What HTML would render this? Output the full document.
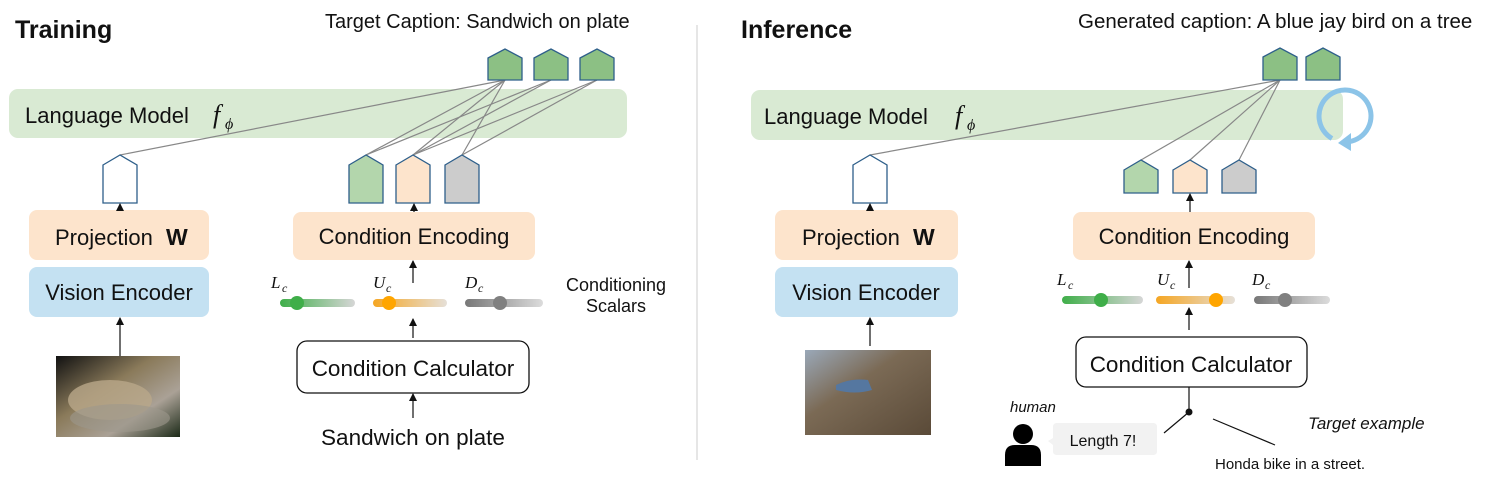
<!DOCTYPE html>
<html><head><meta charset="utf-8"><style>
body{margin:0;background:#fff}
svg{display:block}
text{font-family:"Liberation Sans",sans-serif;fill:#111}
.m{font-family:"Liberation Serif",serif;font-style:italic}
</style></head><body>
<svg width="1495" height="482" viewBox="0 0 1495 482" xmlns="http://www.w3.org/2000/svg">
<defs>
<marker id="ar" markerWidth="8" markerHeight="8" refX="7" refY="4" orient="auto" markerUnits="userSpaceOnUse"><path d="M0,0 L8,4 L0,8 z" fill="#111"/></marker>
<linearGradient id="gG" x1="0" x2="1"><stop offset="0" stop-color="#3fae49"/><stop offset="1" stop-color="#d6d6d6"/></linearGradient>
<linearGradient id="gO" x1="0" x2="1"><stop offset="0" stop-color="#f5a623"/><stop offset="1" stop-color="#e6e0d8"/></linearGradient>
<linearGradient id="gD" x1="0" x2="1"><stop offset="0" stop-color="#777"/><stop offset="1" stop-color="#dcdcdc"/></linearGradient>
<linearGradient id="img1" x1="0" y1="0" x2="1" y2="1"><stop offset="0" stop-color="#111"/><stop offset=".4" stop-color="#8a7a5a"/><stop offset=".7" stop-color="#aaa196"/><stop offset="1" stop-color="#1c2a18"/></linearGradient>
<linearGradient id="img2" x1="0" y1="0" x2="1" y2="1"><stop offset="0" stop-color="#9aa8b8"/><stop offset=".4" stop-color="#7b6a55"/><stop offset="1" stop-color="#5a4a38"/></linearGradient>
</defs>

<line x1="697" y1="25" x2="697" y2="460" stroke="#ccc" stroke-width="1"/>

<!-- ============ TRAINING ============ -->
<text x="15" y="38" font-size="25" font-weight="bold">Training</text>
<text x="325" y="28" font-size="20">Target Caption:  Sandwich on plate</text>

<rect x="9" y="89" width="618" height="49" rx="9" fill="#d9ead3"/>
<text x="25" y="123" font-size="22">Language Model</text>
<text x="213" y="123" font-size="26" class="m">f</text><text x="225" y="129" font-size="16" class="m">ϕ</text>

<g stroke="#888" stroke-width="1.2" fill="none">
<line x1="505" y1="80" x2="120" y2="155"/>
<line x1="505" y1="80" x2="366" y2="155"/>
<line x1="505" y1="80" x2="413" y2="155"/>
<line x1="505" y1="80" x2="462" y2="155"/>
<line x1="551" y1="80" x2="366" y2="155"/>
<line x1="551" y1="80" x2="413" y2="155"/>
<line x1="597" y1="80" x2="413" y2="155"/>
<line x1="597" y1="80" x2="462" y2="155"/>
</g>

<g stroke="#2e5f8a" stroke-width="1.3">
<path d="M488,58 L505,49 L522,58 L522,80 L488,80 Z" fill="#8cc084"/>
<path d="M534,58 L551,49 L568,58 L568,80 L534,80 Z" fill="#8cc084"/>
<path d="M580,58 L597,49 L614,58 L614,80 L580,80 Z" fill="#8cc084"/>
<path d="M103,165 L120,155 L137,165 L137,203 L103,203 Z" fill="#fff"/>
<path d="M349,165 L366,155 L383,165 L383,203 L349,203 Z" fill="#b3d6ac"/>
<path d="M396,165 L413,155 L430,165 L430,203 L396,203 Z" fill="#fde4cc"/>
<path d="M445,165 L462,155 L479,165 L479,203 L445,203 Z" fill="#cccccc"/>
</g>

<rect x="29" y="210" width="180" height="50" rx="8" fill="#fde4cc"/>
<text x="55" y="245" font-size="22">Projection</text><text x="166" y="245" font-size="23" font-weight="bold" font-family="Liberation Serif,serif">W</text>
<rect x="29" y="267" width="180" height="50" rx="8" fill="#c4e1f2"/>
<text x="119" y="300" font-size="22" text-anchor="middle">Vision Encoder</text>

<rect x="293" y="212" width="242" height="48" rx="8" fill="#fde4cc"/>
<text x="414" y="244" font-size="22" text-anchor="middle">Condition Encoding</text>

<g stroke="#111" stroke-width="1.2" marker-end="url(#ar)">
<line x1="120" y1="210" x2="120" y2="204"/>
<line x1="120" y1="356" x2="120" y2="318"/>
<line x1="414" y1="212" x2="414" y2="204"/>
<line x1="413" y1="283" x2="413" y2="261"/>
<line x1="413" y1="338" x2="413" y2="319"/>
<line x1="413" y1="418" x2="413" y2="394"/>
</g>

<text x="271" y="288" font-size="17" class="m">L</text><text x="282" y="292" font-size="12" class="m">c</text>
<text x="373" y="288" font-size="17" class="m">U</text><text x="386" y="292" font-size="12" class="m">c</text>
<text x="465" y="288" font-size="17" class="m">D</text><text x="478" y="292" font-size="12" class="m">c</text>
<rect x="280" y="299" width="75" height="8" rx="4" fill="url(#gG)"/><circle cx="297" cy="303" r="7" fill="#3fae49"/>
<rect x="373" y="299" width="74" height="8" rx="4" fill="url(#gO)"/><circle cx="389" cy="303" r="7" fill="#ffa500"/>
<rect x="465" y="299" width="78" height="8" rx="4" fill="url(#gD)"/><circle cx="500" cy="303" r="7" fill="#808080"/>
<text x="616" y="291" font-size="18" text-anchor="middle">Conditioning</text>
<text x="616" y="312" font-size="18" text-anchor="middle">Scalars</text>

<rect x="297" y="341" width="232" height="52" rx="10" fill="#fff" stroke="#111" stroke-width="1.3"/>
<text x="413" y="376" font-size="22.5" text-anchor="middle">Condition Calculator</text>
<text x="413" y="445" font-size="22.5" text-anchor="middle">Sandwich on plate</text>

<rect x="56" y="356" width="124" height="81" fill="url(#img1)"/>
<ellipse cx="110" cy="400" rx="42" ry="20" fill="#b9a88a" opacity=".8"/>
<ellipse cx="120" cy="418" rx="50" ry="14" fill="#9d978c" opacity=".6"/>

<!-- ============ INFERENCE ============ -->
<text x="741" y="38" font-size="25" font-weight="bold">Inference</text>
<text x="1078" y="28" font-size="20.5">Generated caption:   A blue jay bird on a tree</text>

<rect x="751" y="90" width="592" height="50" rx="9" fill="#d9ead3"/>
<text x="764" y="124" font-size="22">Language Model</text>
<text x="955" y="124" font-size="26" class="m">f</text><text x="967" y="130" font-size="16" class="m">ϕ</text>
<path d="M1332,138.5 A26,26 0 1,1 1349.5,141.6" fill="none" stroke="#8cc4e8" stroke-width="5"/>
<path d="M1351,133 L1351,151 L1338,143 Z" fill="#8cc4e8"/>

<g stroke="#888" stroke-width="1.2" fill="none">
<line x1="1280" y1="80" x2="870" y2="155"/>
<line x1="1280" y1="80" x2="1141" y2="160"/>
<line x1="1280" y1="80" x2="1190" y2="160"/>
<line x1="1280" y1="80" x2="1239" y2="160"/>
</g>

<g stroke="#2e5f8a" stroke-width="1.3">
<path d="M1263,57 L1280,48 L1297,57 L1297,80 L1263,80 Z" fill="#8cc084"/>
<path d="M1306,57 L1323,48 L1340,57 L1340,80 L1306,80 Z" fill="#8cc084"/>
<path d="M853,165 L870,155 L887,165 L887,203 L853,203 Z" fill="#fff"/>
<path d="M1124,170 L1141,160 L1158,170 L1158,193 L1124,193 Z" fill="#b3d6ac"/>
<path d="M1173,170 L1190,160 L1207,170 L1207,193 L1173,193 Z" fill="#fde4cc"/>
<path d="M1222,170 L1239,160 L1256,170 L1256,193 L1222,193 Z" fill="#cccccc"/>
</g>

<rect x="775" y="210" width="183" height="50" rx="8" fill="#fde4cc"/>
<text x="802" y="245" font-size="22">Projection</text><text x="913" y="245" font-size="23" font-weight="bold" font-family="Liberation Serif,serif">W</text>
<rect x="775" y="267" width="183" height="50" rx="8" fill="#c4e1f2"/>
<text x="866" y="300" font-size="22" text-anchor="middle">Vision Encoder</text>

<rect x="1073" y="212" width="242" height="48" rx="8" fill="#fde4cc"/>
<text x="1194" y="244" font-size="22" text-anchor="middle">Condition Encoding</text>

<g stroke="#111" stroke-width="1.2" marker-end="url(#ar)">
<line x1="870" y1="210" x2="870" y2="204"/>
<line x1="870" y1="346" x2="870" y2="318"/>
<line x1="1190" y1="212" x2="1190" y2="194"/>
<line x1="1189" y1="288" x2="1189" y2="261"/>
<line x1="1189" y1="330" x2="1189" y2="308"/>
</g>

<text x="1057" y="285" font-size="17" class="m">L</text><text x="1068" y="289" font-size="12" class="m">c</text>
<text x="1157" y="285" font-size="17" class="m">U</text><text x="1170" y="289" font-size="12" class="m">c</text>
<text x="1252" y="285" font-size="17" class="m">D</text><text x="1265" y="289" font-size="12" class="m">c</text>
<rect x="1062" y="296" width="81" height="8" rx="4" fill="url(#gG)"/><circle cx="1101" cy="300" r="7" fill="#3fae49"/>
<rect x="1156" y="296" width="79" height="8" rx="4" fill="url(#gO)"/><circle cx="1216" cy="300" r="7" fill="#ffa500"/>
<rect x="1254" y="296" width="76" height="8" rx="4" fill="url(#gD)"/><circle cx="1285" cy="300" r="7" fill="#808080"/>

<rect x="1076" y="337" width="231" height="50" rx="10" fill="#fff" stroke="#111" stroke-width="1.3"/>
<text x="1191" y="372" font-size="22.5" text-anchor="middle">Condition Calculator</text>

<line x1="1189" y1="387" x2="1189" y2="412" stroke="#111" stroke-width="1.2"/>
<circle cx="1189" cy="412" r="3.5" fill="#111"/>
<line x1="1189" y1="412" x2="1164" y2="433" stroke="#111" stroke-width="1.2"/>
<line x1="1213" y1="419" x2="1275" y2="445" stroke="#111" stroke-width="1.2"/>

<text x="1010" y="412" font-size="15" font-style="italic">human</text>
<circle cx="1023" cy="434" r="10" fill="#000"/>
<path d="M1005,466 L1005,455 Q1005,445 1015,445 L1031,445 Q1041,445 1041,455 L1041,466 Z" fill="#000"/>
<path d="M1053,427 Q1053,423 1057,423 L1153,423 Q1157,423 1157,427 L1157,451 Q1157,455 1153,455 L1057,455 Q1053,455 1053,451 L1053,445 L1048,441 L1053,438 Z" fill="#f2f2f2"/>
<text x="1103" y="446" font-size="16" text-anchor="middle">Length 7!</text>
<text x="1308" y="429" font-size="17" font-style="italic">Target example</text>
<text x="1215" y="469" font-size="15">Honda bike in a street.</text>

<rect x="805" y="350" width="126" height="85" fill="url(#img2)"/>
<path d="M836,385 Q850,378 868,380 L872,390 Q855,395 836,390 Z" fill="#5577a0"/>
</svg>
</body></html>
